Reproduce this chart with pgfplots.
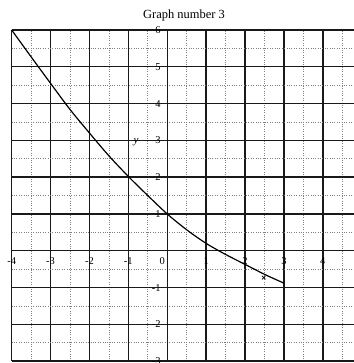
\documentclass[border=0pt]{standalone}
\usepackage{fontspec}
\setmainfont{Liberation Serif}
\usepackage{pgfplots}
\pgfplotsset{compat=1.18}

\begin{document}
\begin{tikzpicture}
\begin{axis}[
  x=38.9bp, y=36.8bp,
  xmin=-4, xmax=4.8, ymin=-3, ymax=6,
  enlargelimits=false,
  axis lines=middle,
  axis line style={draw=black!90, line width=1.4pt, -},
  tick style={draw=none},
  xtick={-4,-3,-2,-1,1,2,3,4},
  ytick={-3,-2,-1,1,2,3,4,5,6},
  minor xtick={-3.5,-2.5,-1.5,-0.5,0.5,1.5,2.5,3.5,4.5},
  minor ytick={-2.5,-1.5,-0.5,0.5,1.5,2.5,3.5,4.5,5.5},
  grid=both,
  major grid style={black!90, line width=1.4pt},
  minor grid style={black!50, dotted, line width=0.7pt},
  /pgf/number format/assume math mode=true,
  ticklabel style={font=\fontsize{10.5}{12}\selectfont, fill=none},
  xticklabel style={anchor=north, yshift=-1pt},
  yticklabel style={anchor=east, xshift=-1pt},
  clip=false,
]
  % the curve, read point by point
  \addplot[black, line width=1.2pt, smooth, tension=0.5] coordinates {
    (-4,6) (-3.5,5.27) (-3,4.55) (-2.5,3.84) (-2,3.2) (-1.5,2.58)
    (-1,2.02) (-0.5,1.5) (0,1) (0.5,0.57) (1,0.2) (1.5,-0.1)
    (2,-0.37) (2.5,-0.64) (3,-0.88)
  };
  % hand-marked point
  \addplot[only marks, mark=x, mark size=2.5pt, black, line width=0.6pt]
    coordinates {(2.48,-0.73)};

  \node[font=\fontsize{10.5}{12}\selectfont] at (axis cs:-0.13,-0.28) {0};
  \node[font=\fontsize{11}{12}\itshape] at (axis cs:-0.8,2.95) {y};
  \node[font=\fontsize{12.5}{14}\selectfont, anchor=base] at (axis cs:0.43,6.3) {Graph number 3};

  \coordinate (bbsw) at (axis cs:-4.30,-3.05);
  \coordinate (bbne) at (axis cs:4.80,6.815);
\end{axis}
\pgfresetboundingbox
\path[use as bounding box] (bbsw) rectangle (bbne);
\end{tikzpicture}
\end{document}
